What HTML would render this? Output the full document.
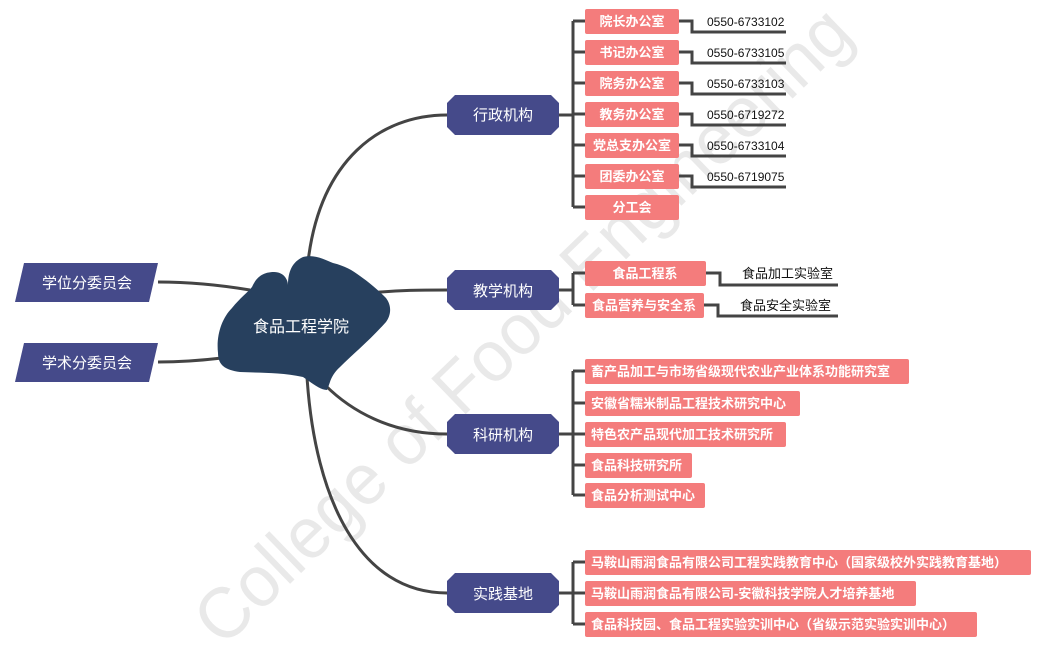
<!DOCTYPE html>
<html><head><meta charset="utf-8"><style>
html,body{margin:0;background:#fff;width:1045px;height:645px;overflow:hidden;}
svg{display:block;}
svg text{font-family:"Liberation Sans","Noto Sans CJK SC",sans-serif;}
</style></head><body>
<svg width="1045" height="645" viewBox="0 0 1045 645" xmlns="http://www.w3.org/2000/svg">
<text x="522" y="350" font-size="72" fill="#e9e9e9" text-anchor="middle" textLength="880" lengthAdjust="spacingAndGlyphs" transform="rotate(-44 522 325)">College of Food Engineering</text>
<g fill="none" stroke="#444" stroke-width="3">
<path d="M308 262 C320 160 380 115 447 115"/>
<path d="M370 293 C400 290 420 290 447 290"/>
<path d="M325 385 C350 410 390 434 447 434"/>
<path d="M307 377 C315 500 360 593 447 593"/>
<path d="M158 282 C190 282 220 285 250 290"/>
<path d="M158 362 C185 362 205 360 222 358"/>
<path d="M559 115 H573 M573 21 V207 M573 21 H585 M573 52 H585 M573 83 H585 M573 114 H585 M573 145 H585 M573 176 H585 M573 207 H585"/>
<path d="M679 21 H692 V32 H786 M679 52 H692 V63 H786 M679 83 H692 V94 H786 M679 114 H692 V125 H786 M679 145 H692 V156 H786 M679 176 H692 V187 H786"/>
<path d="M559 290 H573 M573 273 V305 M573 273 H585 M573 305 H585"/>
<path d="M706 273 H720 V285 H838 M704 305 H718 V316 H838"/>
<path d="M559 434 H573 M573 371 V495 M573 371 H585 M573 403 H585 M573 434 H585 M573 465 H585 M573 495 H585"/>
<path d="M559 593 H573 M573 562 V624 M573 562 H585 M573 593 H585 M573 624 H585"/>
</g>
<path fill="#27405e" d="M218 353 C216 335 222 318 232 308 C240 298 248 292 252 287 C256 278 262 272 274 272 C284 272 288 280 288 285 C288 272 292 262 303 257 C315 254 325 260 333 263 C345 266 352 270 360 276 C370 283 378 290 386 298 C392 306 391 315 386 322 C370 340 352 355 340 367 C330 376 330 384 327 390 C320 390 312 383 303 377 C280 372 260 373 240 372 C225 370 218 365 218 353 Z"/>
<text x="301" y="332" font-size="16" fill="#fff" text-anchor="middle">食品工程学院</text>
<g fill="#454a8a">
<polygon points="24,263 158,263 149,302 15,302"/>
<polygon points="24,343 158,343 149,382 15,382"/>
<polygon points="455,95 551,95 559,103 559,127 551,135 455,135 447,127 447,103"/>
<polygon points="455,270 551,270 559,278 559,302 551,310 455,310 447,302 447,278"/>
<polygon points="455,414 551,414 559,422 559,446 551,454 455,454 447,446 447,422"/>
<polygon points="455,573 551,573 559,581 559,605 551,613 455,613 447,605 447,581"/>
</g>
<g fill="#fff" font-size="15" text-anchor="middle">
<text x="87" y="288">学位分委员会</text>
<text x="87" y="368">学术分委员会</text>
<text x="503" y="120">行政机构</text>
<text x="503" y="296">教学机构</text>
<text x="503" y="440">科研机构</text>
<text x="503" y="599">实践基地</text>
</g>
<g fill="#f47c7c">
<rect x="585" y="9" width="94" height="25" rx="2"/>
<rect x="585" y="40" width="94" height="25" rx="2"/>
<rect x="585" y="71" width="94" height="25" rx="2"/>
<rect x="585" y="102" width="94" height="25" rx="2"/>
<rect x="585" y="133" width="94" height="25" rx="2"/>
<rect x="585" y="164" width="94" height="25" rx="2"/>
<rect x="585" y="195" width="94" height="25" rx="2"/>
<rect x="585" y="261" width="121" height="25" rx="2"/>
<rect x="585" y="293" width="119" height="25" rx="2"/>
<rect x="585" y="359" width="324" height="25" rx="2"/>
<rect x="585" y="391" width="215" height="25" rx="2"/>
<rect x="585" y="422" width="201" height="25" rx="2"/>
<rect x="585" y="453" width="107" height="25" rx="2"/>
<rect x="585" y="483" width="120" height="25" rx="2"/>
<rect x="585" y="550" width="446" height="25" rx="2"/>
<rect x="585" y="581" width="331" height="25" rx="2"/>
<rect x="585" y="612" width="392" height="25" rx="2"/>
</g>
<g fill="#fff" font-size="13" font-weight="bold" text-anchor="middle">
<text x="632" y="26">院长办公室</text>
<text x="632" y="57">书记办公室</text>
<text x="632" y="88">院务办公室</text>
<text x="632" y="119">教务办公室</text>
<text x="632" y="150">党总支办公室</text>
<text x="632" y="181">团委办公室</text>
<text x="632" y="212">分工会</text>
<text x="645" y="278">食品工程系</text>
<text x="644" y="310">食品营养与安全系</text>
</g>
<g fill="#fff" font-size="13" font-weight="bold">
<text x="591" y="376">畜产品加工与市场省级现代农业产业体系功能研究室</text>
<text x="591" y="408">安徽省糯米制品工程技术研究中心</text>
<text x="591" y="439">特色农产品现代加工技术研究所</text>
<text x="591" y="470">食品科技研究所</text>
<text x="591" y="500">食品分析测试中心</text>
<text x="591" y="567">马鞍山雨润食品有限公司工程实践教育中心（国家级校外实践教育基地）</text>
<text x="591" y="598">马鞍山雨润食品有限公司-安徽科技学院人才培养基地</text>
<text x="591" y="629">食品科技园、食品工程实验实训中心（省级示范实验实训中心）</text>
</g>
<g fill="#111" font-size="12">
<text x="707" y="26">0550-6733102</text>
<text x="707" y="57">0550-6733105</text>
<text x="707" y="88">0550-6733103</text>
<text x="707" y="119">0550-6719272</text>
<text x="707" y="150">0550-6733104</text>
<text x="707" y="181">0550-6719075</text>
<text x="742" y="278" font-size="13">食品加工实验室</text>
<text x="740" y="310" font-size="13">食品安全实验室</text>
</g>
</svg>
</body></html>
